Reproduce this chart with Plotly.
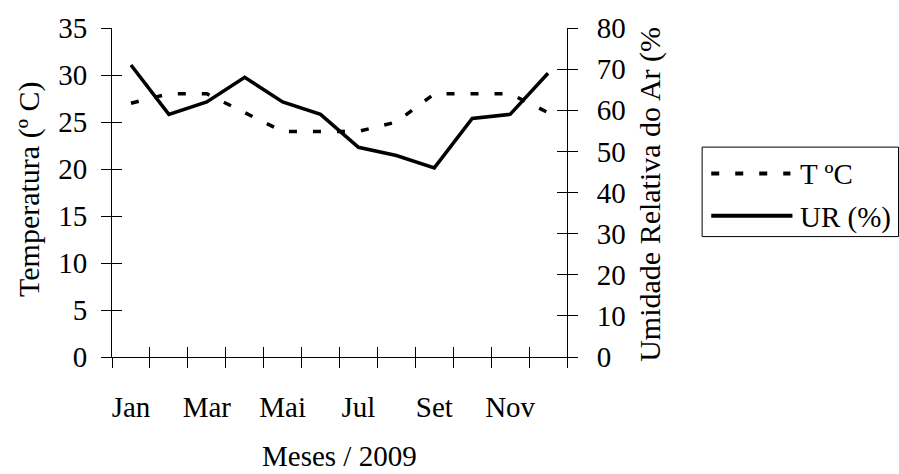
import plotly.graph_objects as go

# Monthly series, 2009
months = ["Jan", "Fev", "Mar", "Abr", "Mai", "Jun",
          "Jul", "Ago", "Set", "Out", "Nov", "Dez"]
temp_c = [27, 28, 28, 26, 24, 24, 24, 25, 28, 28, 28, 26]
ur_pct = [71, 59, 62, 68, 62, 59, 51, 49, 46, 58, 59, 69]

temp_ticks = list(range(0, 36, 5))
ur_ticks = list(range(0, 81, 10))

x_idx = list(range(len(months)))
x_range = [-0.5, len(months) - 0.5]
boundaries = [i - 0.5 for i in range(len(months) + 1)]
label_pos = x_idx[::2]
label_txt = months[::2]

FONT = "Liberation Serif, Times New Roman, serif"
BLACK = "#000000"
DASH = "8px,16px"

fig = go.Figure()

# Empty traces so the helper axes (inner tick halves, month names) get drawn
for xa, ya in [("x2", "y"), ("x3", "y"), ("x", "y3"), ("x", "y4")]:
    fig.add_trace(go.Scatter(x=[], y=[], xaxis=xa, yaxis=ya, mode="lines",
                             showlegend=False, hoverinfo="skip"))

fig.add_trace(go.Scatter(x=x_idx, y=temp_c, mode="lines", name="T ºC",
                         line=dict(color=BLACK, width=3.5, dash=DASH),
                         xaxis="x", yaxis="y", showlegend=False))
fig.add_trace(go.Scatter(x=x_idx, y=ur_pct, mode="lines", name="UR (%)",
                         line=dict(color=BLACK, width=3.5),
                         xaxis="x", yaxis="y2", showlegend=False))

common = dict(showgrid=False, zeroline=False, fixedrange=True)

fig.update_layout(
    width=899, height=474,
    margin=dict(l=112, r=332.3, t=22, b=117),
    paper_bgcolor="white", plot_bgcolor="white",
    font=dict(family=FONT, size=29, color=BLACK),
    # month boundaries: outward half of the cross ticks
    xaxis=dict(range=x_range, tickmode="array", tickvals=boundaries,
               showticklabels=False, ticks="outside", ticklen=10,
               tickwidth=1, tickcolor=BLACK, showline=True,
               linecolor=BLACK, linewidth=1, anchor="y", **common),
    # inward half of the cross ticks
    xaxis2=dict(range=x_range, tickmode="array", tickvals=boundaries,
                showticklabels=False, ticks="inside", ticklen=10,
                tickwidth=1, tickcolor=BLACK, showline=False,
                overlaying="x", anchor="y", side="bottom", **common),
    # month names centred in their slots
    xaxis3=dict(range=x_range, tickmode="array", tickvals=label_pos,
                ticktext=label_txt, ticks="", showline=False,
                ticklabelstandoff=30,
                overlaying="x", anchor="y", side="bottom", **common),
    yaxis=dict(range=[0, 35], tickmode="array", tickvals=temp_ticks,
               ticks="outside", ticklen=10, tickwidth=1, tickcolor=BLACK,
               showline=True, linecolor=BLACK, linewidth=1,
               ticklabelstandoff=8, anchor="x", side="left", **common),
    yaxis3=dict(range=[0, 35], tickmode="array", tickvals=temp_ticks,
                ticks="inside", ticklen=10, tickwidth=1, tickcolor=BLACK,
                showticklabels=False, showline=False,
                overlaying="y", anchor="x", side="left", **common),
    yaxis2=dict(range=[0, 80], tickmode="array", tickvals=ur_ticks,
                ticks="outside", ticklen=10, tickwidth=1, tickcolor=BLACK,
                showline=True, linecolor=BLACK, linewidth=1,
                ticklabelstandoff=13,
                overlaying="y", anchor="x", side="right", **common),
    yaxis4=dict(range=[0, 80], tickmode="array", tickvals=ur_ticks,
                ticks="inside", ticklen=10, tickwidth=1, tickcolor=BLACK,
                showticklabels=False, showline=False,
                overlaying="y", anchor="x", side="right", **common),
)

# Axis titles
fig.add_annotation(text="Temperatura (º C)", textangle=-90,
                   xref="paper", yref="paper", x=-0.1836, y=0.509,
                   xanchor="center", yanchor="middle", showarrow=False,
                   font=dict(size=30))
fig.add_annotation(text="Umidade Relativa do Ar (%", textangle=-90,
                   xref="paper", yref="paper", x=1.1832, y=0.494,
                   xanchor="center", yanchor="middle", showarrow=False,
                   font=dict(size=30))
fig.add_annotation(text="Meses / 2009",
                   xref="paper", yref="paper", x=0.5, y=-0.302,
                   xanchor="center", yanchor="middle", showarrow=False,
                   font=dict(size=29))

# Boxed key with long line samples
fig.add_shape(type="rect", xref="paper", yref="paper",
              x0=1.297, x1=1.7286, y0=0.366, y1=0.638,
              line=dict(color=BLACK, width=1), fillcolor="white")
fig.add_shape(type="line", xref="paper", yref="paper",
              x0=1.317, x1=1.491, y0=0.558, y1=0.558,
              line=dict(color=BLACK, width=4, dash=DASH))
fig.add_shape(type="line", xref="paper", yref="paper",
              x0=1.317, x1=1.4955, y0=0.429, y1=0.429,
              line=dict(color=BLACK, width=4))
fig.add_annotation(text="T ºC", xref="paper", yref="paper",
                   x=1.5085, y=0.555, xanchor="left", yanchor="middle",
                   showarrow=False, font=dict(size=29))
fig.add_annotation(text="UR (%)", xref="paper", yref="paper",
                   x=1.5085, y=0.424, xanchor="left", yanchor="middle",
                   showarrow=False, font=dict(size=29))

fig.write_html("out.html")
